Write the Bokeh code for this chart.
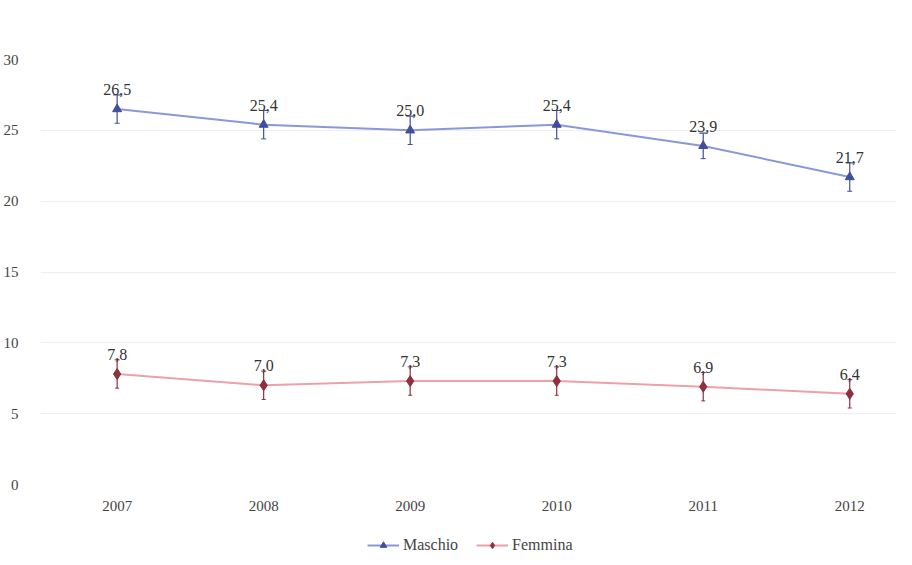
from bokeh.plotting import figure
from bokeh.layouts import column
from bokeh.models import (ColumnDataSource, Range1d, FixedTicker, Whisker, TeeHead,
                          Legend, LegendItem, LabelSet)
from bokeh.embed import file_html
from bokeh.resources import INLINE

years = [2007, 2008, 2009, 2010, 2011, 2012]
maschio = [26.5, 25.4, 25.0, 25.4, 23.9, 21.7]
maschio_err = [1.0, 1.0, 1.0, 1.0, 0.9, 1.0]
femmina = [7.8, 7.0, 7.3, 7.3, 6.9, 6.4]
femmina_err = [1.0, 1.0, 1.0, 1.0, 1.0, 1.0]
y_ticks = [0, 5, 10, 15, 20, 25, 30]
series_names = ["Maschio", "Femmina"]

def fmt(v):
    return f"{v:.1f}".replace(".", ",")

src_m = ColumnDataSource(dict(x=years, y=maschio,
                              lo=[v - e for v, e in zip(maschio, maschio_err)],
                              hi=[v + e for v, e in zip(maschio, maschio_err)],
                              lab=[fmt(v) for v in maschio]))
src_f = ColumnDataSource(dict(x=years, y=femmina,
                              lo=[v - e for v, e in zip(femmina, femmina_err)],
                              hi=[v + e for v, e in zip(femmina, femmina_err)],
                              lab=[fmt(v) for v in femmina]))

FONT = "Liberation Serif"
p = figure(width=896, height=524, output_backend="svg", toolbar_location=None,
           x_range=Range1d(2006.477, 2012.319), y_range=Range1d(0, 30),
           min_border_left=36, min_border_right=0, min_border_top=59, min_border_bottom=40)
p.outline_line_color = None
p.xgrid.grid_line_color = None
p.ygrid.grid_line_color = "#eeeeee"
p.ygrid.ticker = FixedTicker(ticks=y_ticks)

for ax in (p.xaxis[0], p.yaxis[0]):
    ax.axis_line_color = None
    ax.major_tick_line_color = None
    ax.minor_tick_line_color = None
    ax.major_label_text_font = FONT
    ax.major_label_text_font_size = "15px"
    ax.major_label_text_color = "#444444"
p.xaxis.ticker = FixedTicker(ticks=years)
p.yaxis.ticker = FixedTicker(ticks=y_ticks)
p.xaxis.major_label_standoff = 10
p.yaxis.major_label_standoff = 16

blue_line = "#8a98d8"
blue_mark = "#3f4f9e"
red_line = "#eea0a8"
red_mark = "#8e3040"

p.add_layout(Whisker(source=src_m, base="x", lower="lo", upper="hi", line_color=blue_mark,
                     line_width=1.2,
                     upper_head=TeeHead(size=8, line_color=blue_mark, line_width=1.2),
                     lower_head=TeeHead(size=5, line_color=blue_mark, line_width=1)))
p.add_layout(Whisker(source=src_f, base="x", lower="lo", upper="hi", line_color=red_mark,
                     line_width=1.2,
                     upper_head=TeeHead(size=5, line_color=red_mark, line_width=1),
                     lower_head=TeeHead(size=4, line_color=red_mark, line_width=1)))

p.line("x", "y", source=src_m, line_color=blue_line, line_width=2)
p.scatter("x", "y", source=src_m, marker="triangle", size=9,
          fill_color=blue_mark, line_color=blue_mark)
p.line("x", "y", source=src_f, line_color=red_line, line_width=2)
p.scatter("x", "y", source=src_f, marker="diamond", size=11,
          fill_color=red_mark, line_color=red_mark)

for s in (src_m, src_f):
    p.add_layout(LabelSet(x="x", y="y", text="lab", source=s, x_offset=0, y_offset=14,
                          text_align="center", text_baseline="bottom",
                          text_font=FONT, text_font_size="16px", text_color="#333333"))

# legend strip below the chart (series drawn off-view so only legend glyphs show)
leg = figure(width=896, height=32, output_backend="svg", toolbar_location=None,
             x_range=Range1d(0, 1), y_range=Range1d(0, 1),
             x_axis_location=None, y_axis_location=None,
             min_border_left=0, min_border_right=0, min_border_top=0, min_border_bottom=0)
leg.outline_line_color = None
leg.xgrid.grid_line_color = None
leg.ygrid.grid_line_color = None
lm = leg.line("x", "y", source=src_m, line_color=blue_line, line_width=2)
mm = leg.scatter("x", "y", source=src_m, marker="triangle", size=7,
                 fill_color=blue_mark, line_color=blue_mark)
lf = leg.line("x", "y", source=src_f, line_color=red_line, line_width=2)
mf = leg.scatter("x", "y", source=src_f, marker="diamond", size=9,
                 fill_color=red_mark, line_color=red_mark)
legend = Legend(items=[LegendItem(label=series_names[0], renderers=[lm, mm]),
                       LegendItem(label=series_names[1], renderers=[lf, mf])],
                orientation="horizontal", location=(327, 2),
                label_text_font=FONT, label_text_font_size="16px",
                label_text_color="#444444", border_line_color=None,
                background_fill_alpha=0, glyph_width=32, glyph_height=16,
                label_standoff=4, label_height=16,
                spacing=18, margin=0, padding=2)
leg.add_layout(legend, "center")

open("out.html", "w").write(file_html(column(p, leg, spacing=0), INLINE))
